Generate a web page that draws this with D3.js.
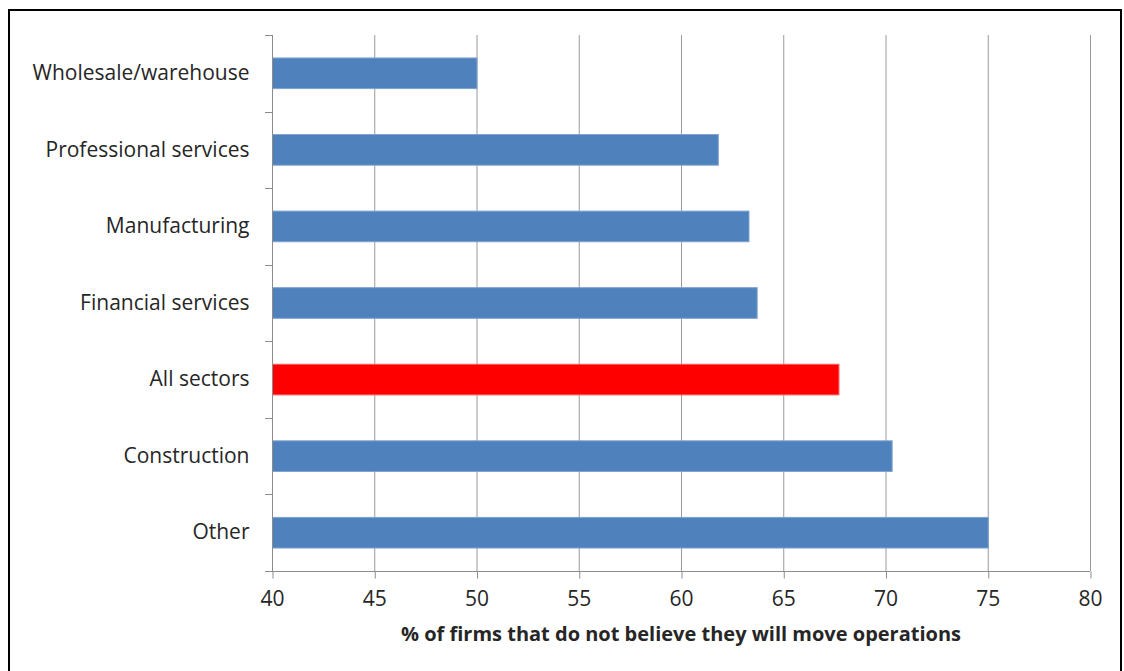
<!DOCTYPE html>
<html>
<head>
<meta charset="utf-8">
<script src="https://cdn.jsdelivr.net/npm/d3@7"></script>
<style>
  body { margin: 0; background: #fff; }
  text { font-family: "Open Sans", sans-serif; fill: #262626; }
</style>
</head>
<body>
<svg width="1124" height="671"></svg>
<script>
var categories = ["Wholesale/warehouse", "Professional services", "Manufacturing",
    "Financial services", "All sectors", "Construction", "Other"];
var values = [50.0, 61.8, 63.3, 63.7, 67.7, 70.3, 75.0];
var xTicks = [40, 45, 50, 55, 60, 65, 70, 75, 80];
var highlight = "All sectors";

var svg = d3.select("svg");

var plotLeft = 272, plotRight = 1090, plotTop = 35, plotBottom = 571;

var x = d3.scaleLinear()
    .domain([40, 80])
    .range([plotLeft, plotRight]);

var y = d3.scaleBand()
    .domain(categories)
    .range([plotTop, plotBottom])
    .paddingInner(0.6)
    .paddingOuter(0.3);

// outer frame
svg.append("rect")
    .attr("x", 9).attr("y", 10)
    .attr("width", 1112).attr("height", 700)
    .attr("fill", "none")
    .attr("stroke", "#000")
    .attr("stroke-width", 2);

// vertical gridlines
svg.append("g")
    .selectAll("line")
    .data(xTicks.slice(1))
    .enter().append("line")
    .attr("x1", function(d) { return x(d) + 0.5; })
    .attr("x2", function(d) { return x(d) + 0.5; })
    .attr("y1", plotTop)
    .attr("y2", plotBottom)
    .attr("stroke", "#9a9a9a");

// bars
svg.append("g")
    .selectAll("rect")
    .data(categories)
    .enter().append("rect")
    .attr("x", x(40) + 0.5)
    .attr("y", function(d) { return y(d); })
    .attr("width", function(d, i) { return x(values[i]) - x(40); })
    .attr("height", y.bandwidth())
    .attr("fill", function(d) { return d == highlight ? "#ff0000" : "#4f81bd"; })
    .attr("stroke", function(d) { return d == highlight ? "#ff6060" : "#7ea2d2"; })
    .attr("stroke-width", 1);

// x axis
var xAxis = svg.append("g")
    .attr("transform", "translate(0," + (plotBottom + 0.5) + ")")
    .call(d3.axisBottom(x).tickValues(xTicks).tickSize(7).tickSizeOuter(0).tickPadding(13));
xAxis.select(".domain").attr("stroke", "#8c8c8c").attr("d", "M" + (plotLeft - 7) + ",0H" + plotRight);
xAxis.selectAll(".tick line").attr("stroke", "#8c8c8c").attr("transform", "translate(0.5,0)");
xAxis.selectAll(".tick text")
    .style("font-size", "21px")
    .attr("fill", "#262626");

// y axis
var yAxis = svg.append("g")
    .attr("transform", "translate(" + (plotLeft + 0.5) + ",0)")
    .call(d3.axisLeft(y).tickSize(0).tickPadding(23));
yAxis.select(".domain").attr("stroke", "#8c8c8c").attr("d", "M0," + plotTop + "V" + plotBottom);
yAxis.selectAll(".tick text")
    .style("font-size", "21px")
    .attr("fill", "#262626");

// band boundary ticks on y axis
var bounds = d3.range(categories.length + 1).map(function(i) {
    return plotTop + i * (plotBottom - plotTop) / categories.length;
});
svg.append("g")
    .selectAll("line")
    .data(bounds)
    .enter().append("line")
    .attr("x1", plotLeft - 7)
    .attr("x2", plotLeft)
    .attr("y1", function(d) { return Math.round(d) + 0.5; })
    .attr("y2", function(d) { return Math.round(d) + 0.5; })
    .attr("stroke", "#8c8c8c");

// axis title
svg.append("text")
    .attr("x", 681)
    .attr("y", 641)
    .attr("text-anchor", "middle")
    .style("font-size", "20px")
    .style("font-weight", "bold")
    .attr("fill", "#000")
    .text("% of firms that do not believe they will move operations");
</script>
</body>
</html>
